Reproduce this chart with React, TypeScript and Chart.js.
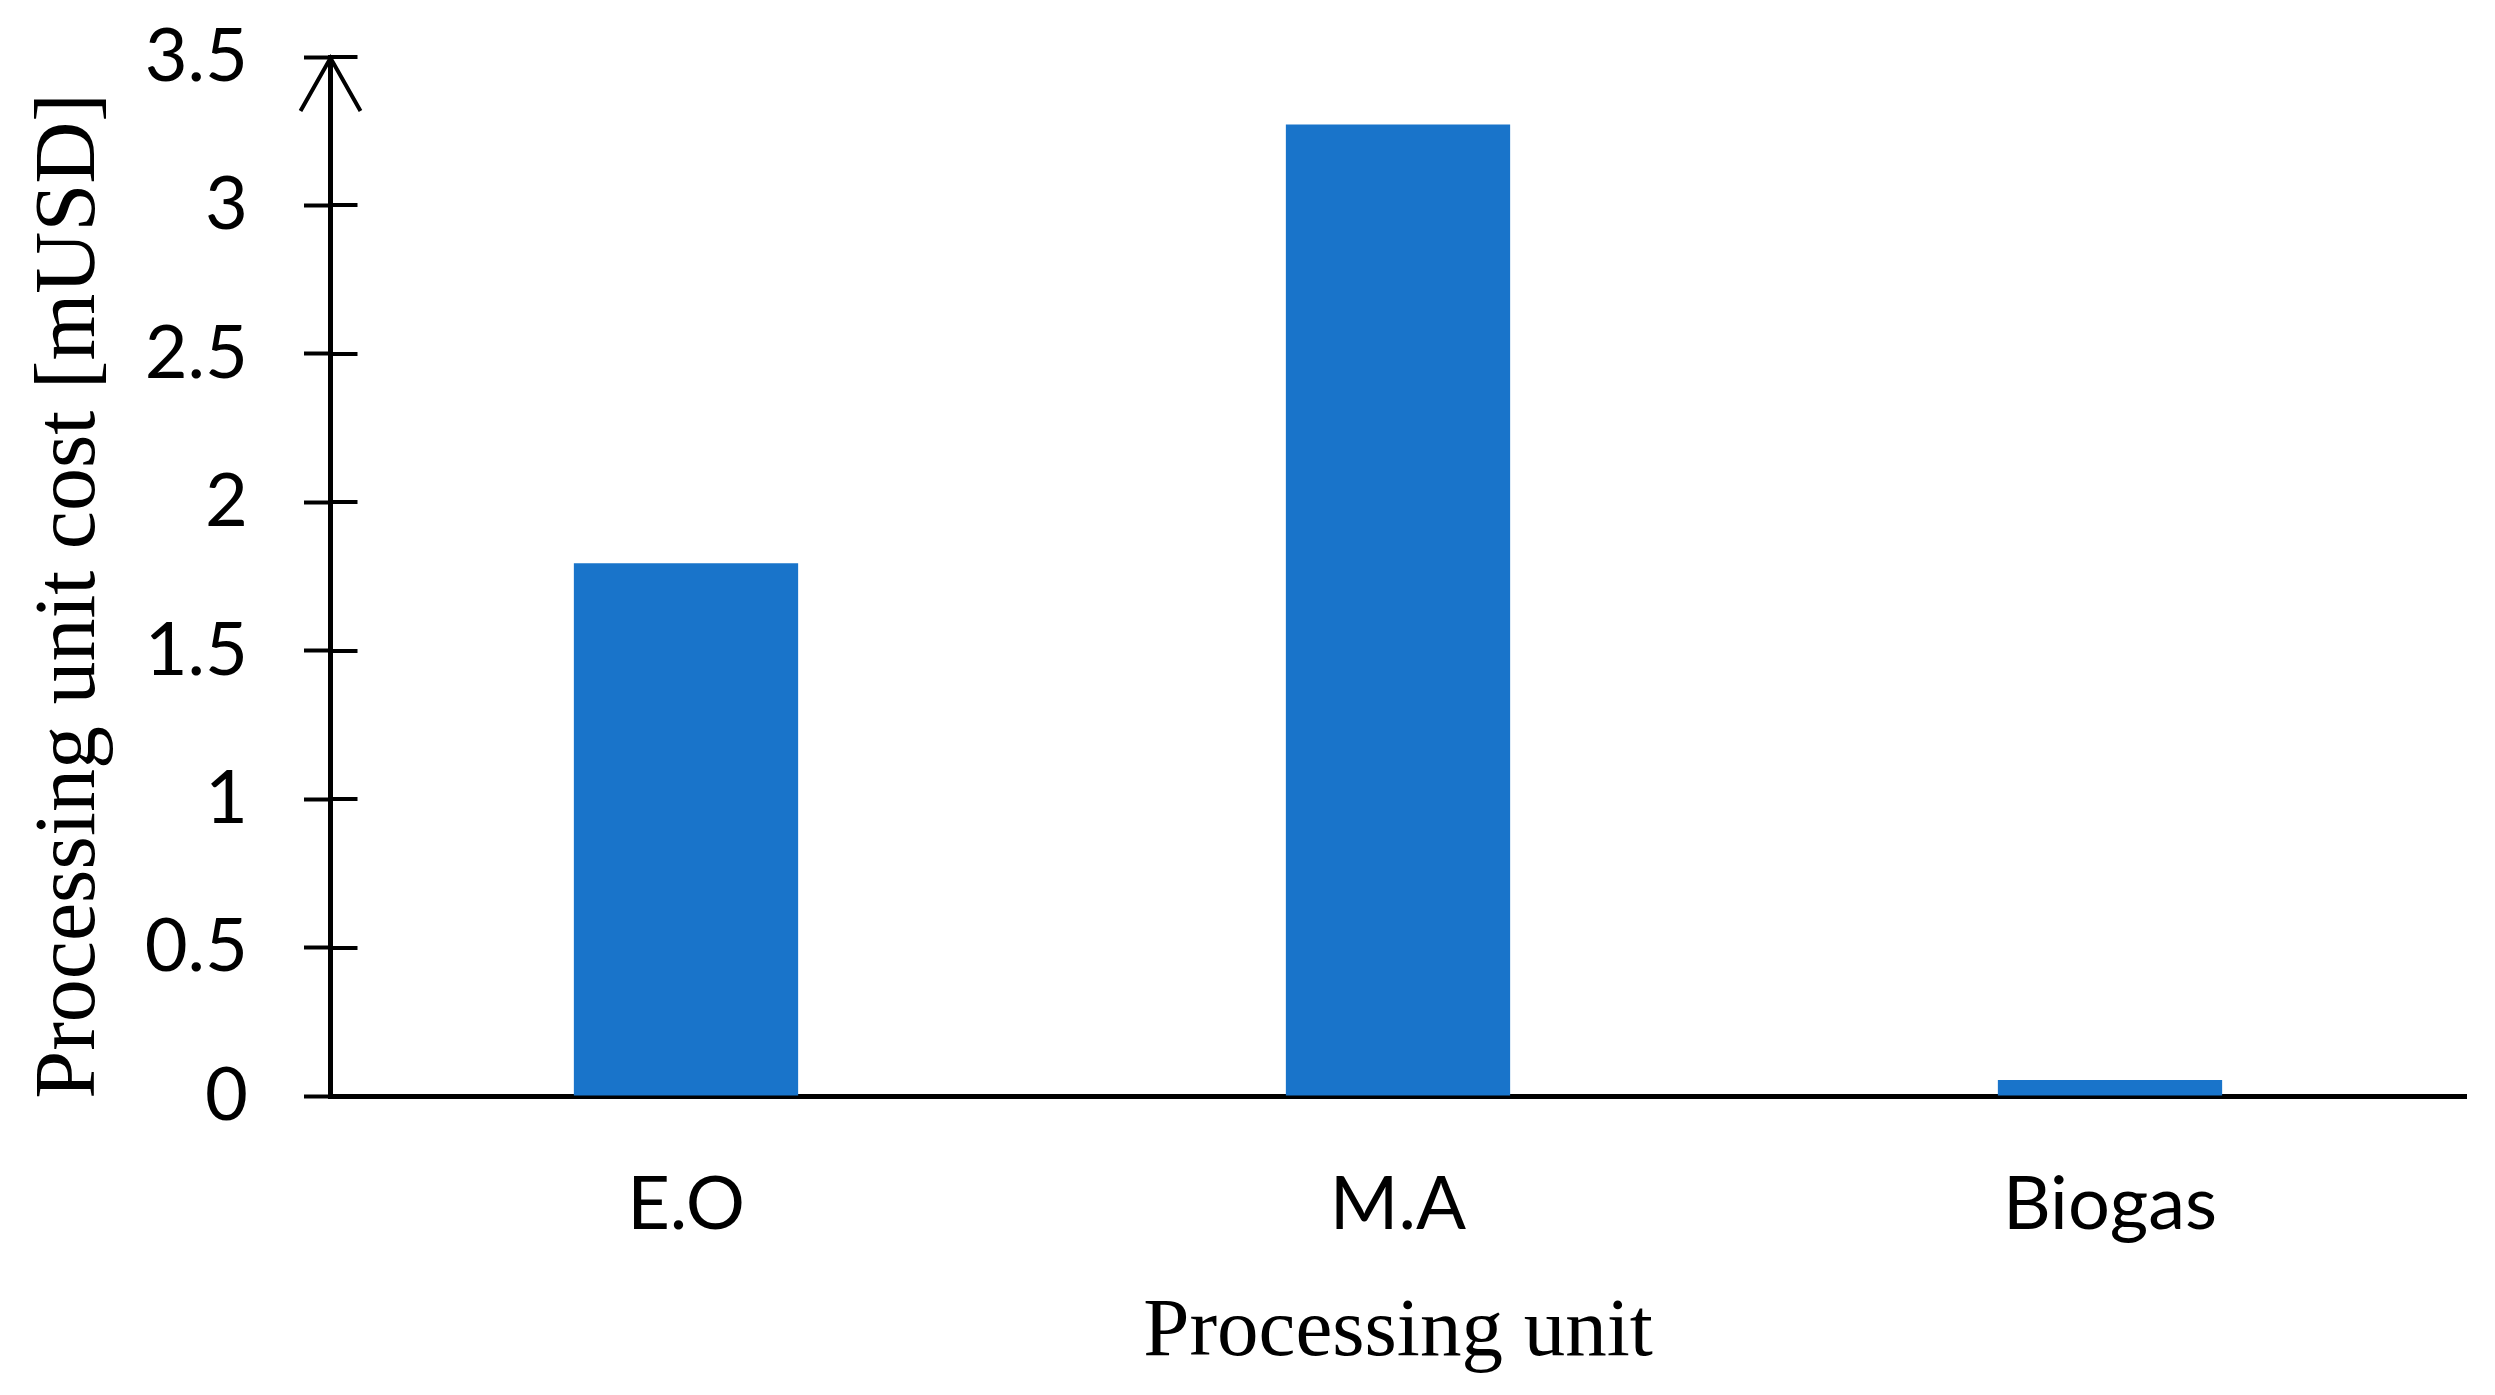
import React, { useEffect, useRef } from 'react';
import { Chart, registerables } from 'chart.js';

Chart.register(...registerables);

const categories = ['E.O', 'M.A', 'Biogas'];
const costValues = [1.795, 3.273, 0.054];
const yTickValues = [0, 0.5, 1, 1.5, 2, 2.5, 3, 3.5];
const xTitle = 'Processing unit';
const yTitle = 'Processing unit cost [mUSD] \u2009';

const W = 2495;
const H = 1395;

export default function App() {
  const ref = useRef<HTMLCanvasElement>(null);

  useEffect(() => {
    const canvas = ref.current;
    if (!canvas) return;

    const axisDecor = {
      id: 'axisDecor',
      afterDraw(chart: any) {
        const { ctx, chartArea, scales } = chart;
        const y = scales.y;
        const x0 = chartArea.left + 0.5;
        ctx.save();
        ctx.strokeStyle = '#000';
        ctx.lineWidth = 4;
        for (const v of yTickValues) {
          const py = Math.round(y.getPixelForValue(v));
          ctx.beginPath();
          ctx.moveTo(x0, py);
          ctx.lineTo(x0 + 27, py);
          ctx.stroke();
        }
        const top = y.getPixelForValue(yTickValues[yTickValues.length - 1]);
        ctx.beginPath();
        ctx.moveTo(x0 - 30, top + 54);
        ctx.lineTo(x0, top + 1);
        ctx.lineTo(x0 + 30, top + 54);
        ctx.stroke();
        ctx.restore();
      },
    };

    const chart = new Chart(canvas, {
      type: 'bar',
      data: {
        labels: categories,
        datasets: [
          {
            data: costValues,
            backgroundColor: 'rgb(25,116,202)',
            borderWidth: 0,
            barPercentage: 0.315,
            categoryPercentage: 1,
          },
        ],
      },
      options: {
        responsive: false,
        animation: false,
        devicePixelRatio: 1,
        layout: { padding: { left: 0, top: 57, right: 29, bottom: 0 } },
        plugins: {
          legend: { display: false },
          tooltip: { enabled: false },
        },
        scales: {
          x: {
            offset: true,
            afterFit: (s: any) => {
              s.height = 299;
              s.paddingLeft = 0;
              s.paddingRight = 0;
            },
            grid: { display: false },
            border: { display: true, color: '#000', width: 5 },
            ticks: {
              color: '#000',
              padding: 57,
              font: { family: 'Lato', size: 74 },
            },
            title: {
              display: true,
              text: xTitle,
              color: '#000',
              font: { family: 'Liberation Serif', size: 83 },
              padding: { top: 0, bottom: 12 },
            },
          },
          y: {
            min: 0,
            max: 3.5,
            afterFit: (s: any) => {
              s.width = 330;
              s.paddingTop = 0;
              s.paddingBottom = 0;
            },
            afterBuildTicks: (s: any) => {
              s.ticks = yTickValues.map((v) => ({ value: v }));
            },
            grid: {
              display: true,
              drawOnChartArea: false,
              drawTicks: true,
              tickLength: 26,
              tickWidth: 4,
              tickColor: '#000',
              color: '#000',
            },
            border: { display: true, color: '#000', width: 5 },
            ticks: {
              color: '#000',
              padding: 56,
              font: { family: 'Lato', size: 74 },
              callback: (v: any) => String(v),
            },
            title: {
              display: true,
              text: yTitle,
              color: '#000',
              font: { family: 'Liberation Serif', size: 86 },
              padding: { top: 20, bottom: 0 },
            },
          },
        },
      },
      plugins: [axisDecor],
    });

    return () => chart.destroy();
  }, []);

  return (
    <div style={{ position: 'absolute', left: 0, top: 0, width: W, height: H, background: '#fff' }}>
      <canvas ref={ref} width={W} height={H} style={{ display: 'block', width: W, height: H }} />
    </div>
  );
}
